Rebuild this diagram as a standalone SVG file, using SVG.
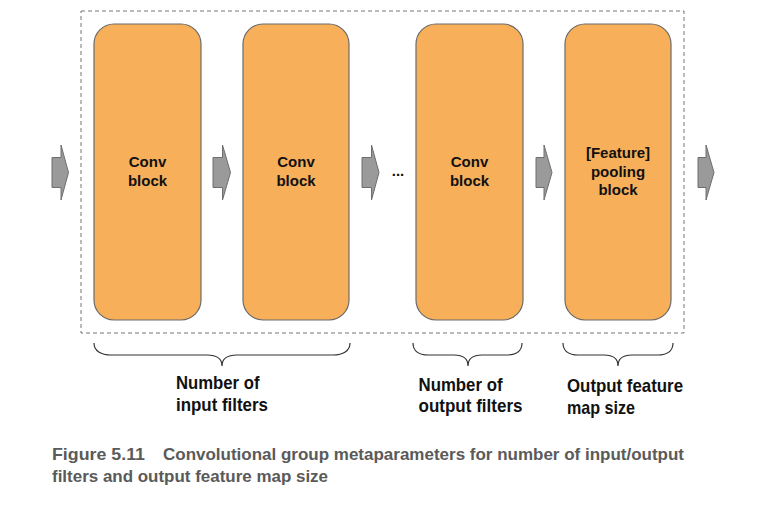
<svg xmlns="http://www.w3.org/2000/svg" width="783" height="509" viewBox="0 0 783 509">
<style>
.blk{fill:#F7AF5A;stroke:#6b6b6b;stroke-width:1.2}
.arr{fill:#9a9a9a;stroke:#6e6e6e;stroke-width:1}
.bt{font-family:"Liberation Sans",Arial,sans-serif;font-weight:bold;font-size:15px;fill:#111;text-anchor:middle}
.lb{font-family:"Liberation Sans",Arial,sans-serif;font-weight:bold;font-size:19px;fill:#111}
.cap{font-family:"Liberation Sans",Arial,sans-serif;font-weight:bold;font-size:16.5px;fill:#5a5a5a}
.brace{fill:none;stroke:#333;stroke-width:1.2}
</style>
<rect width="783" height="509" fill="#fff"/>
<rect id="group" x="81" y="11" width="603" height="322" fill="none" stroke="#777" stroke-width="1" stroke-dasharray="4,3"/>
<g id="connectors">
<path class="arr" d="M52 157.5H61V145L68.5 172.5L61 200V187.5H52Z"/>
<path class="arr" d="M213 157.5H222.5V145L230.5 172.5L222.5 200V187.5H213Z"/>
<path class="arr" d="M362 157.5H371.5V145L379 172.5L371.5 200V187.5H362Z"/>
<path class="arr" d="M536 157.5H544V145L552 172.5L544 200V187.5H536Z"/>
<path class="arr" d="M698 157.5H706V145L714 172.5L706 200V187.5H698Z"/>
</g>
<g id="node1"><rect class="blk" x="94" y="24" width="107" height="296" rx="20"/><text class="bt" x="147.5" y="167">Conv</text><text class="bt" x="147.5" y="186">block</text></g>
<g id="node2"><rect class="blk" x="243" y="24" width="106" height="296" rx="20"/><text class="bt" x="296" y="167">Conv</text><text class="bt" x="296" y="186">block</text></g>
<g id="ellipsis"><text x="398" y="176" font-family="Liberation Sans,Arial,sans-serif" font-weight="bold" font-size="15" text-anchor="middle" fill="#111">...</text></g>
<g id="node3"><rect class="blk" x="416" y="24" width="107" height="296" rx="20"/><text class="bt" x="469.5" y="167">Conv</text><text class="bt" x="469.5" y="186">block</text></g>
<g id="node4"><rect class="blk" x="565" y="24" width="106" height="296" rx="20"/><text class="bt" x="618" y="158">[Feature]</text><text class="bt" x="618" y="176.5">pooling</text><text class="bt" x="618" y="195">block</text></g>
<g id="braces">
<path class="brace" d="M94 343C94 351 101 355 111 355L207 355C216 355 222 358 222 366C222 358 228 355 237 355L333 355C343 355 350 351 350 343"/>
<path class="brace" d="M413 343C413 351 419 355 428 355L454 355C463 355 468 358 468 366C468 358 473 355 482 355L507 355C516 355 522 351 522 343"/>
<path class="brace" d="M563 343C563 351 569 355 578 355L604 355C613 355 618 358 618 366C618 358 623 355 632 355L658 355C667 355 673 351 673 343"/>
</g>
<g id="labels">
<text class="lb" x="176" y="389" textLength="83.5" lengthAdjust="spacingAndGlyphs">Number of</text>
<text class="lb" x="176" y="410.5" textLength="92" lengthAdjust="spacingAndGlyphs">input filters</text>
<text class="lb" x="418.5" y="390.5" textLength="84" lengthAdjust="spacingAndGlyphs">Number of</text>
<text class="lb" x="418.5" y="412" textLength="104" lengthAdjust="spacingAndGlyphs">output filters</text>
<text class="lb" x="567" y="392" textLength="116" lengthAdjust="spacingAndGlyphs">Output feature</text>
<text class="lb" x="567" y="413.5" textLength="68" lengthAdjust="spacingAndGlyphs">map size</text>
</g>
<g id="caption">
<text class="cap" x="52" y="460" textLength="93" lengthAdjust="spacingAndGlyphs">Figure 5.11</text>
<text class="cap" x="163" y="460" textLength="521" lengthAdjust="spacingAndGlyphs">Convolutional group metaparameters for number of input/output</text>
<text class="cap" x="52" y="481.5" textLength="276" lengthAdjust="spacingAndGlyphs">filters and output feature map size</text>
</g>
</svg>
